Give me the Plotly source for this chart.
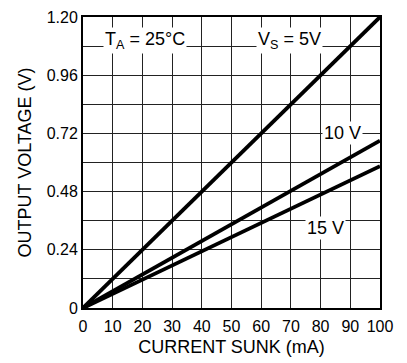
import plotly.graph_objects as go

current_ma = [0, 100]
vout_5v = [0, 1.20]
vout_10v = [0, 0.69]
vout_15v = [0, 0.585]
x_ticks = [0, 10, 20, 30, 40, 50, 60, 70, 80, 90, 100]
y_ticks = [0, 0.24, 0.48, 0.72, 0.96, 1.20]
y_ticktext = ["0", "0.24", "0.48", "0.72", "0.96", "1.20"]

FONT = "Liberation Sans, Arial, Helvetica, sans-serif"

fig = go.Figure()
for ys in (vout_5v, vout_10v, vout_15v):
    fig.add_trace(go.Scatter(x=current_ma, y=ys, mode="lines",
                             line=dict(color="black", width=3.8),
                             cliponaxis=False, showlegend=False))

ann = dict(showarrow=False, bgcolor="white", font=dict(family=FONT, size=18, color="black"),
           xref="x", yref="y", borderpad=1)
fig.add_annotation(x=21, y=1.105, text="T<sub>A</sub> = 25°C", **ann)
fig.add_annotation(x=69.5, y=1.105, text="V<sub>S</sub> = 5V", **ann)
fig.add_annotation(x=87.5, y=0.72, text="10 V", **ann)
fig.add_annotation(x=81.5, y=0.33, text="15 V", **ann)

axis_common = dict(showline=True, linecolor="black", linewidth=2, mirror=True,
                   showgrid=True, gridcolor="#222", gridwidth=1.3, zeroline=False,
                   ticks="", tickfont=dict(family=FONT, size=16, color="black"),
                   automargin=False)
fig.update_xaxes(range=[0, 100], tickvals=x_ticks, ticklabelstandoff=3,
                 title=dict(text="CURRENT SUNK (mA)", font=dict(family=FONT, size=18, color="black"), standoff=6),
                 **axis_common)
fig.update_yaxes(range=[0, 1.2], tickvals=y_ticks, ticktext=y_ticktext,
                 minor=dict(dtick=0.12, tick0=0, showgrid=True, gridcolor="#222", gridwidth=1.3),
                 title=dict(text="OUTPUT VOLTAGE (V)", font=dict(family=FONT, size=18, color="black"), standoff=10),
                 **axis_common)

fig.update_layout(width=407, height=363, margin=dict(l=83, r=27, t=17, b=55),
                  plot_bgcolor="white", paper_bgcolor="white",
                  font=dict(family=FONT, color="black"))
fig.write_html("out.html")
